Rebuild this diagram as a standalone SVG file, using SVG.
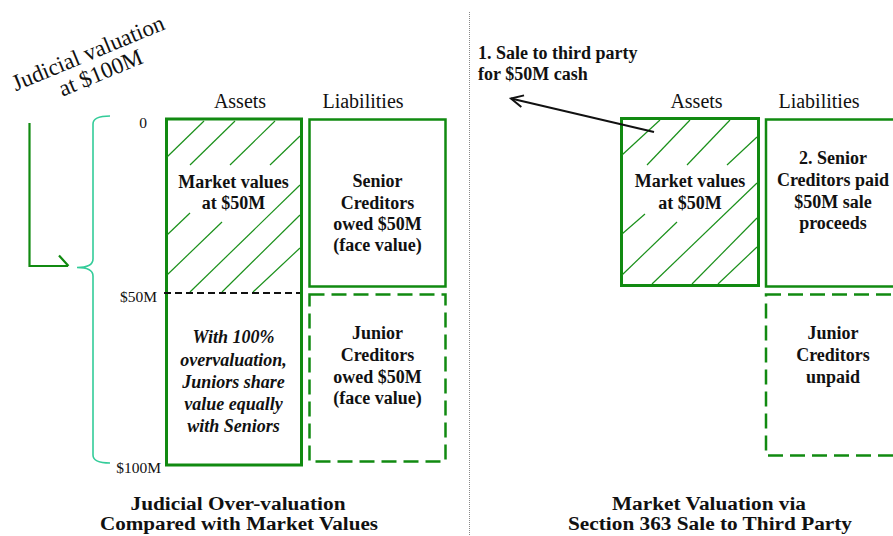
<svg xmlns="http://www.w3.org/2000/svg" width="893" height="536" viewBox="0 0 893 536">
<defs>
<style>
.serif{font-family:"Liberation Serif","Times New Roman",serif;fill:#111}
.hdr{font-size:20px;text-anchor:middle}
.bt{font-size:18px;font-weight:bold;text-anchor:middle}
.bi{font-size:18px;font-weight:bold;font-style:italic;text-anchor:middle}
.ttl{font-size:18px;font-weight:bold;text-anchor:middle}
.ax{font-size:15.5px}
.box{fill:#fff;stroke:#118a11;stroke-width:3}
.box2{fill:#fff;stroke:#118a11;stroke-width:2.5}
.dbox{fill:#fff;stroke:#118a11;stroke-width:2.5;stroke-dasharray:15 7}
.hatch{stroke:#1a901a;stroke-width:1.2;fill:none}
</style>
<marker id="open" markerUnits="userSpaceOnUse" markerWidth="16" markerHeight="16" refX="0" refY="0" viewBox="-14 -8 16 16" orient="auto">
<path d="M-12,-6 L0,0 L-12,6" fill="none" stroke="#111" stroke-width="2"/>
</marker>
</defs>
<rect width="893" height="536" fill="#fff"/>

<!-- divider -->
<line x1="469.5" y1="12" x2="469.5" y2="536" stroke="#888" stroke-width="1" stroke-dasharray="1 1"/>

<!-- rotated label -->
<g id="judicial-label" transform="translate(91,60) rotate(-22.5)">
<text class="serif" font-size="23" text-anchor="middle" x="0" y="0">Judicial valuation</text>
<text class="serif" font-size="23" text-anchor="middle" x="4" y="23">at $100M</text>
</g>

<!-- left axis labels -->
<g id="axis">
<text class="serif ax" x="143" y="128" text-anchor="middle">0</text>
<text class="serif ax" x="157" y="302" text-anchor="end">$50M</text>
<text class="serif ax" x="161" y="473" text-anchor="end">$100M</text>
</g>

<!-- headers -->
<text class="serif hdr" x="240" y="108">Assets</text>
<text class="serif hdr" x="363" y="108">Liabilities</text>
<text class="serif hdr" x="696.5" y="108">Assets</text>
<text class="serif hdr" x="819" y="108">Liabilities</text>

<!-- left assets box -->
<g id="left-assets">
<rect class="box" x="166.5" y="119" width="135" height="346"/>
<g class="hatch">
<line x1="167" y1="157" x2="204" y2="121"/>
<line x1="190" y1="165" x2="235" y2="121"/>
<line x1="230" y1="165" x2="275" y2="121"/>
<line x1="270" y1="165" x2="300" y2="136"/>
<line x1="167" y1="235" x2="190" y2="213"/>
<line x1="167" y1="275" x2="222" y2="222"/>
<line x1="190" y1="292" x2="300" y2="185"/>
<line x1="222" y1="292" x2="300" y2="215"/>
<line x1="253" y1="292" x2="300" y2="248"/>
</g>
<line x1="164" y1="293" x2="300" y2="293" stroke="#111" stroke-width="2" stroke-dasharray="7 4"/>
<text class="serif bt" x="233.5" y="188">Market values</text>
<text class="serif bt" x="233.5" y="209">at $50M</text>
<text class="serif bi" x="233.5" y="343">With 100%</text>
<text class="serif bi" x="233.5" y="365.5">overvaluation,</text>
<text class="serif bi" x="233.5" y="388">Juniors share</text>
<text class="serif bi" x="233.5" y="410">value equally</text>
<text class="serif bi" x="233.5" y="432">with Seniors</text>
</g>

<g id="left-senior">
<rect class="box2" x="309.5" y="119.5" width="136" height="167"/>
<text class="serif bt" x="377.5" y="187">Senior</text>
<text class="serif bt" x="377.5" y="208.5">Creditors</text>
<text class="serif bt" x="377.5" y="230">owed $50M</text>
<text class="serif bt" x="377.5" y="251">(face value)</text>
</g>

<g id="left-junior">
<rect class="dbox" x="309.5" y="294.5" width="136" height="167"/>
<text class="serif bt" x="377.5" y="339">Junior</text>
<text class="serif bt" x="377.5" y="361">Creditors</text>
<text class="serif bt" x="377.5" y="382.5">owed $50M</text>
<text class="serif bt" x="377.5" y="404">(face value)</text>
</g>

<!-- right assets box -->
<g id="right-assets">
<rect class="box" x="621.5" y="118.5" width="137" height="167"/>
<g class="hatch">
<line x1="622" y1="155" x2="660" y2="120"/>
<line x1="647" y1="165" x2="690" y2="120"/>
<line x1="687" y1="165" x2="730" y2="120"/>
<line x1="727" y1="165" x2="757" y2="137"/>
<line x1="622" y1="234" x2="645" y2="214"/>
<line x1="622" y1="275" x2="677" y2="222"/>
<line x1="652" y1="284" x2="757" y2="183"/>
<line x1="692" y1="284" x2="757" y2="218"/>
<line x1="718" y1="284" x2="757" y2="247"/>
</g>
<text class="serif bt" x="690" y="187">Market values</text>
<text class="serif bt" x="690" y="208.5">at $50M</text>
</g>

<g id="right-senior">
<rect class="box2" x="766" y="119.5" width="137" height="167"/>
<text class="serif bt" x="833" y="164">2. Senior</text>
<text class="serif bt" x="833" y="186">Creditors paid</text>
<text class="serif bt" x="833" y="208">$50M sale</text>
<text class="serif bt" x="833" y="229">proceeds</text>
</g>

<g id="right-junior">
<rect class="dbox" x="766" y="294.5" width="137" height="161"/>
<text class="serif bt" x="833" y="339">Junior</text>
<text class="serif bt" x="833" y="361">Creditors</text>
<text class="serif bt" x="833" y="383">unpaid</text>
</g>

<g id="sale-label">
<text class="serif" font-size="18" font-weight="bold" x="478" y="59">1. Sale to third party</text>
<text class="serif" font-size="18" font-weight="bold" x="478" y="80">for $50M cash</text>
</g>

<!-- connectors -->
<g id="connectors">
<line x1="654" y1="132" x2="511" y2="98.5" stroke="#111" stroke-width="2" marker-end="url(#open)"/>
<path d="M29.5,123 L29.5,266 L68,266 M59,255.5 L68.5,266" fill="none" stroke="#118a11" stroke-width="2.2"/>
<path d="M110,116 Q93,116 93,124 L93,259 Q93,267.5 77,267.5 Q93,267.5 93,276 L93,455 Q93,463 110,463" fill="none" stroke="#33cc99" stroke-width="1.6"/>
</g>

<!-- titles -->
<text class="serif ttl" x="238" y="510" textLength="215" lengthAdjust="spacingAndGlyphs">Judicial Over-valuation</text>
<text class="serif ttl" x="239" y="530" textLength="278" lengthAdjust="spacingAndGlyphs">Compared with Market Values</text>
<text class="serif ttl" x="709" y="510" textLength="194" lengthAdjust="spacingAndGlyphs">Market Valuation via</text>
<text class="serif ttl" x="710" y="530" textLength="284" lengthAdjust="spacingAndGlyphs">Section 363 Sale to Third Party</text>
</svg>
